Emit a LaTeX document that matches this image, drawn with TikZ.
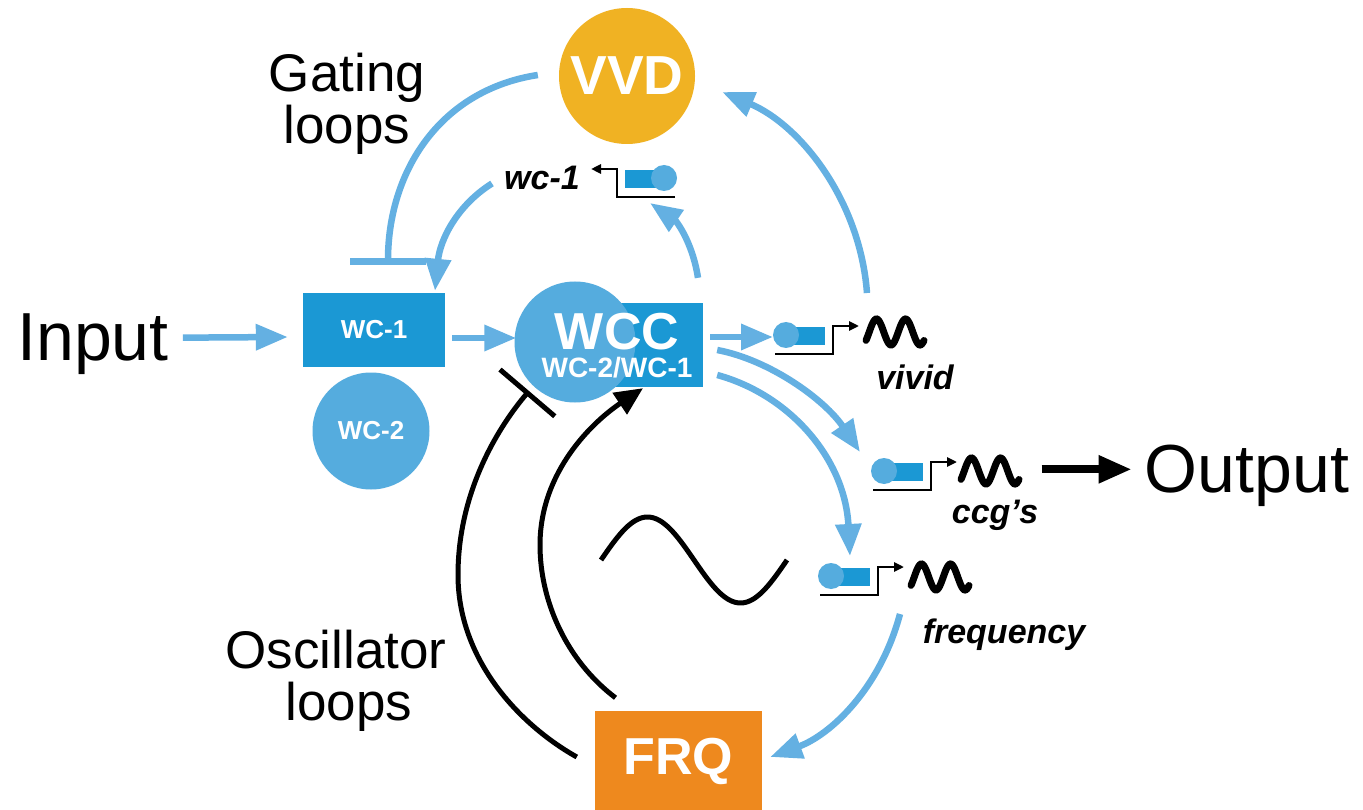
\documentclass[tikz,border=0pt]{standalone}
\usepackage{fontspec}
\setmainfont{Liberation Sans}
\usetikzlibrary{arrows.meta,calc}
\definecolor{lblue}{HTML}{64B0E2}
\definecolor{dblue}{HTML}{1B98D4}
\definecolor{mblue}{HTML}{55ACDE}
\definecolor{vvdcol}{HTML}{F0B223}
\definecolor{frqcol}{HTML}{EE891E}
\newcommand{\fsz}[1]{\fontsize{#1}{#1}\selectfont}
\tikzset{
  pics/genesym/.style={code={
    \fill[dblue] (18,-27) rectangle (50,-9);
    \fill[mblue] (11,-19) circle[radius=13pt];
    \draw[line width=2.5pt,-{Triangle[length=10pt,width=9pt]}] (0,0) -- (58,0) -- (58,-28) -- (84,-28);
    \coordinate (-c) at (11,-19);
  }},
  pics/wavesym/.style={code={
    \draw[line width=7pt,line cap=round] plot[domain=0:58,samples=60,smooth] (\x,{-13*sin(\x*12.4-40)});
  }},
}
\begin{document}
\begin{tikzpicture}[x=1pt,y=-1pt,
  barrow/.style={draw=lblue, line width=6.5pt, -{Triangle[length=32pt,width=25pt]}},
  binhib/.style={draw=lblue, line width=6.5pt, -{Bar[width=76pt]}},
  karrow/.style={draw=black, line width=5pt, -{Triangle[length=28pt,width=25pt]}},
  kinhib/.style={draw=black, line width=5pt, -{Bar[width=72pt]}},
  lbl/.style={font=\fsz{53}, inner sep=0pt, anchor=base},
  big/.style={font=\fsz{68}, inner sep=0pt, anchor=base},
  gname/.style={font=\fsz{34}\bfseries\itshape, inner sep=0pt, anchor=base},
  wtxt/.style={text=white, inner sep=0pt},
]
\useasboundingbox (0,0) rectangle (1363,810);
\fill[white] (0,0) rectangle (1363,810);

% texts
\node[big] (input) at (93,360) {Input};
\node[big] (output) at (1247,492) {Output};
\node[lbl] (gat1) at (347,92) {Gating};
\node[lbl] (gat2) at (347,144) {loops};
\node[lbl] (osc1) at (336,668) {Oscillator};
\node[lbl] (osc2) at (349,720) {loops};

% proteins
\node[circle, fill=vvdcol, minimum size=136pt, inner sep=0pt, text=white, font=\fsz{55}\bfseries] (vvd) at (627,76) {VVD};
\node[rectangle, fill=dblue, minimum width=142pt, minimum height=74pt, text=white, font=\fsz{26}\bfseries] (wc1) at (374,330) {WC-1};
\node[circle, fill=mblue, minimum size=117pt, inner sep=0pt, text=white, font=\fsz{26}\bfseries] (wc2) at (371,431) {WC-2};
\node[rectangle, fill=dblue, minimum width=110pt, minimum height=84pt] (wccbox) at (648,345) {};
\node[circle, fill=mblue, minimum size=121pt, inner sep=0pt] (wcc) at (575,342) {};
\node[wtxt, font=\fsz{28}\bfseries, align=center] (wcct) at (617,346) {{\fsz{52}WCC}\\WC-2/WC-1};
\node[rectangle, fill=frqcol, minimum width=167pt, minimum height=100pt, text=white, font=\fsz{52}\bfseries] (frq) at (678.5,761) {FRQ};

% genes
\pic[xscale=-1] (wcg) at (675,197) {genesym};
\pic (vivid) at (775,354) {genesym};
\pic (ccg) at (873,490) {genesym};
\pic (freq) at (820,595) {genesym};
\pic (vivw) at (866,332) {wavesym};
\pic (ccgw) at (961,471) {wavesym};
\pic (freqw) at (911,577) {wavesym};
\node[gname] (wc1lbl) at (542,190) {wc-1};
\node[gname] (vividlbl) at (915,389) {vivid};
\node[gname] (ccglbl) at (995,523) {ccg's};
\node[gname] (freqlbl) at (1004,643) {frequency};

% oscillation symbol
\draw[line width=5pt] plot[domain=0:186,samples=90,smooth] ({601+\x},{560-43*sin(\x*1.9355)});

% blue connectors
\draw[barrow] ($(input.east)+(14,-6)$) -- ($(wc1.west)+(-15,7)$);
\draw[barrow] ($(wc1.east)+(7,8)$) -- ($(wcc.west)+(2,-4)$);
\draw[barrow] ($(wccbox.east)+(7,-8)$) -- ($(vivid-c)+(-13,2)$);
\draw[barrow] ($(wccbox.north)+(50,-25)$) .. controls +(-6,-38) and +(25,17) .. ($(wcg-c)+(-14,25)$);
\draw[barrow] ($(vivid-c)+(81,-42)$) .. controls +(-7,-93) and +(78,33) .. ($(vvd.east)+(27,16)$);
\draw[binhib] ($(vvd.west)+(-21,-1)$) .. controls +(-98,15) and +(0,-93) .. ($(wc1.north)+(14,-28)$);
\draw[barrow] ($(wc1lbl.west)+(-12,5)$) .. controls +(-35,22) and +(5,-51) .. ($(wc1.north)+(61,-2)$);
\draw[barrow] ($(wccbox.east)+(14,5)$) .. controls +(53,10) and +(-35,-52) .. ($(ccg-c)+(-24,-19)$);
\draw[barrow] ($(wccbox.east)+(14,30)$) .. controls +(73,20) and +(-5,-97) .. ($(freq-c)+(19,-20)$);
\draw[barrow] ($(freq-c)+(69,38)$) .. controls +(-20,75) and +(60,-22) .. ($(frq.east)+(8,-4)$);

% black connectors
\coordinate (omid) at (458,575);
\coordinate (imid) at (540,545);
\draw[kinhib] ($(frq.west)+(-18,-4)$) .. controls +(-57,-32) and +(0,85) .. (omid)
   .. controls +(0,-85) and +(-29,34) .. ($(wcc.center)+(-46,49)$);
\draw[karrow] ($(frq.north)+(-63,-13)$) .. controls +(-50,-38) and +(0,55) .. (imid)
   .. controls +(0,-75) and +(-48,32) .. ($(wccbox.south)+(-5,1)$);
\draw[draw=black, line width=8pt, -{Triangle[length=33pt,width=26pt]}] ($(output.west)+(-103,-6)$) -- ($(output.west)+(-13,-6)$);
\end{tikzpicture}
\end{document}
